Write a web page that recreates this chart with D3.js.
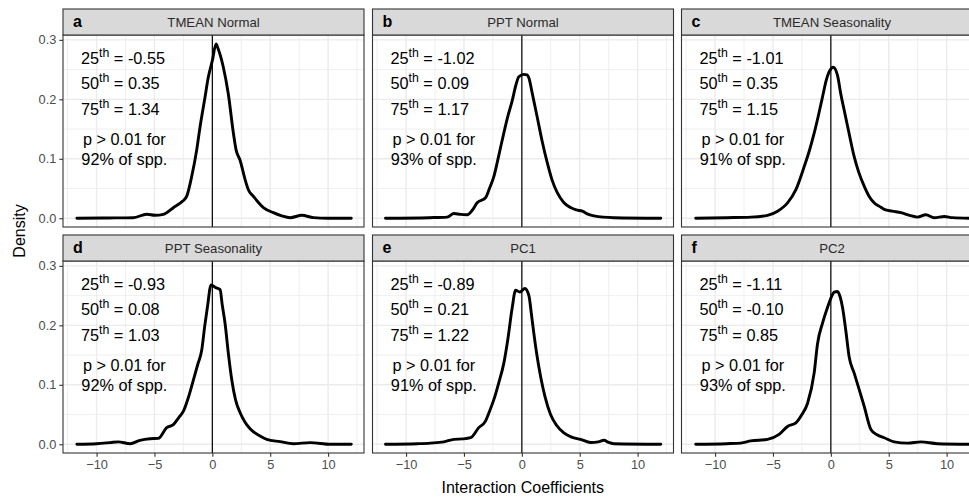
<!DOCTYPE html>
<html>
<head>
<meta charset="utf-8">
<script src="https://cdn.jsdelivr.net/npm/d3@7"></script>
<style>
  html, body { margin: 0; padding: 0; background: #fff; }
  svg { display: block; font-family: "Liberation Sans", Arial, Helvetica, sans-serif; }
</style>
</head>
<body>
<svg id="chart" width="969" height="497"></svg>
<script>
// ---------------- data ----------------
const panelLetters = ["a", "b", "c", "d", "e", "f"];
const panelTitles = ["TMEAN Normal", "PPT Normal", "TMEAN Seasonality", "PPT Seasonality", "PC1", "PC2"];
const p25 = ["-0.55", "-1.02", "-1.01", "-0.93", "-0.89", "-1.11"];
const p50 = ["0.35", "0.09", "0.35", "0.08", "0.21", "-0.10"];
const p75 = ["1.34", "1.17", "1.15", "1.03", "1.22", "0.85"];
const pctSpp = [92, 93, 91, 92, 91, 93];
const xTicks = [-10, -5, 0, 5, 10];
const xMinor = [-12.5, -7.5, -2.5, 2.5, 7.5, 12.5];
const yTicks = [0, 0.1, 0.2, 0.3];
const yMinor = [0.05, 0.15, 0.25];
const xLabel = "Interaction Coefficients";
const yLabel = "Density";

// density curves [coefficient, density]
const densTmeanNormal = [[-11.7,0],[-9,0.0005],[-6.83,0.001],[-5.67,0.0067],[-4.95,0.005],[-4.23,0.0067],[-3.37,0.0178],[-2.56,0.0289],[-2.21,0.0372],[-1.78,0.0706],[-1.35,0.115],[-1.06,0.154],[-0.63,0.204],[-0.35,0.237],[0,0.265],[0.32,0.293],[0.5,0.285],[0.95,0.254],[1.38,0.209],[1.82,0.143],[2.05,0.115],[2.39,0.098],[2.83,0.065],[3.11,0.048],[3.54,0.037],[4.41,0.018],[5.27,0.0094],[6.0,0.004],[6.72,0.001],[7.73,0.005],[8.73,0.001],[10,0],[12,0]];
const densPptNormal = [[-11.78,0],[-8,0.001],[-6.45,0.002],[-5.87,0.008],[-5.3,0.0065],[-4.72,0.006],[-4.3,0.013],[-3.86,0.026],[-3.14,0.0345],[-2.8,0.05],[-2.42,0.07],[-2.0,0.105],[-1.56,0.143],[-1.2,0.172],[-0.83,0.198],[-0.5,0.225],[-0.26,0.238],[0.17,0.242],[0.45,0.241],[0.61,0.236],[0.9,0.21],[1.33,0.17],[1.75,0.13],[2.2,0.093],[2.6,0.065],[3.06,0.043],[3.6,0.027],[4.21,0.018],[4.7,0.014],[5.22,0.012],[5.7,0.007],[6.22,0.004],[7.95,0.001],[12,0]];
const densTmeanSeas = [[-11.67,0],[-9,0.001],[-6.9,0.002],[-5.47,0.005],[-4.6,0.012],[-4.1,0.019],[-3.74,0.026],[-3.02,0.048],[-2.3,0.087],[-1.85,0.114],[-1.44,0.143],[-1.05,0.175],[-0.72,0.204],[-0.4,0.232],[-0.15,0.246],[0.2,0.254],[0.58,0.24],[0.85,0.21],[1.15,0.182],[1.55,0.145],[2.01,0.104],[2.4,0.078],[2.88,0.054],[3.3,0.037],[3.74,0.026],[4.2,0.02],[4.61,0.015],[5.3,0.012],[6.05,0.0095],[6.8,0.005],[7.49,0.002],[8.21,0.006],[8.93,0.001],[9.8,0.003],[10.5,0.001],[12,0]];
const densPptSeas = [[-11.7,0],[-10,0.001],[-8.84,0.0028],[-8.12,0.004],[-7.11,0.001],[-6.25,0.0067],[-5.39,0.0094],[-4.67,0.01],[-3.94,0.028],[-3.37,0.033],[-2.9,0.045],[-2.5,0.0556],[-2.05,0.08],[-1.64,0.108],[-1.25,0.135],[-0.92,0.158],[-0.65,0.2],[-0.43,0.23],[-0.11,0.268],[0.23,0.264],[0.67,0.26],[0.85,0.235],[1.1,0.203],[1.4,0.15],[1.68,0.108],[2.0,0.075],[2.4,0.053],[2.8,0.038],[3.26,0.026],[4.12,0.014],[4.7,0.0083],[5.85,0.0044],[7,0.001],[8.44,0.0028],[10.2,0],[12,0]];
const densPC1 = [[-11.78,0],[-9,0.001],[-7.89,0.002],[-6.74,0.004],[-5.87,0.0083],[-5.1,0.009],[-4.43,0.011],[-3.72,0.028],[-3.14,0.039],[-2.8,0.055],[-2.42,0.075],[-2.0,0.103],[-1.56,0.136],[-1.2,0.178],[-0.83,0.23],[-0.54,0.259],[-0.17,0.256],[0.26,0.262],[0.61,0.25],[0.82,0.22],[1.04,0.186],[1.3,0.15],[1.62,0.114],[2.0,0.08],[2.48,0.05],[3.0,0.032],[3.63,0.019],[4.3,0.012],[5.07,0.0083],[5.94,0.003],[6.6,0.004],[7.09,0.0067],[7.5,0.003],[7.95,0.001],[12,0]];
const densPC2 = [[-11.67,0],[-9,0.001],[-7.78,0.002],[-6.91,0.0056],[-5.47,0.0083],[-4.47,0.0167],[-3.74,0.03],[-3.02,0.036],[-2.5,0.05],[-2.01,0.069],[-1.44,0.12],[-1.15,0.169],[-0.7,0.205],[-0.29,0.23],[0.1,0.25],[0.29,0.256],[0.58,0.257],[0.8,0.248],[1.01,0.23],[1.3,0.19],[1.58,0.147],[2.01,0.12],[2.45,0.092],[2.88,0.064],[3.46,0.025],[4.0,0.016],[4.61,0.011],[5.47,0.004],[6.63,0.002],[7.78,0.004],[9.2,0.001],[12,0]];
const densities = [densTmeanNormal, densPptNormal, densTmeanSeas, densPptSeas, densPC1, densPC2];

// ---------------- layout ----------------
const colLeft = [63, 372.5, 681.5];
const panelW = 301;
const stripTop = [9, 235];
const stripH = 26;
const panelH = 192;
const xDomain = [-12.9, 13.1];
const yMax = 0.2935;
const yDomain = [-0.05 * yMax, 1.05 * yMax];
const FONT = '"Liberation Sans", Arial, Helvetica, sans-serif';

const svg = d3.select("#chart");
svg.append("rect").attr("width", 969).attr("height", 497).attr("fill", "#fff");

const line = d3.line().curve(d3.curveMonotoneX);

densities.forEach((dens, i) => {
  const col = i % 3, row = Math.floor(i / 3);
  const left = colLeft[col];
  const sTop = stripTop[row];
  const pTop = sTop + stripH;
  const x = d3.scaleLinear().domain(xDomain).range([left, left + panelW]);
  const y = d3.scaleLinear().domain(yDomain).range([pTop + panelH, pTop]);
  const g = svg.append("g");

  g.append("rect").attr("x", left).attr("y", pTop).attr("width", panelW).attr("height", panelH).attr("fill", "#fff");

  // grid
  g.selectAll(".xminor").data(xMinor).join("line")
    .attr("x1", d => x(d)).attr("x2", d => x(d)).attr("y1", pTop).attr("y2", pTop + panelH)
    .attr("stroke", "#EBEBEB").attr("stroke-width", 0.8);
  g.selectAll(".yminor").data(yMinor).join("line")
    .attr("x1", left).attr("x2", left + panelW).attr("y1", d => y(d)).attr("y2", d => y(d))
    .attr("stroke", "#EBEBEB").attr("stroke-width", 0.8);
  g.selectAll(".xmajor").data(xTicks).join("line")
    .attr("x1", d => x(d)).attr("x2", d => x(d)).attr("y1", pTop).attr("y2", pTop + panelH)
    .attr("stroke", "#EBEBEB").attr("stroke-width", 1.4);
  g.selectAll(".ymajor").data(yTicks).join("line")
    .attr("x1", left).attr("x2", left + panelW).attr("y1", d => y(d)).attr("y2", d => y(d))
    .attr("stroke", "#EBEBEB").attr("stroke-width", 1.4);

  // vertical zero line
  g.append("line").attr("x1", x(0)).attr("x2", x(0)).attr("y1", pTop).attr("y2", pTop + panelH)
    .attr("stroke", "#000").attr("stroke-width", 1.2);

  // density curve
  g.append("path").attr("d", line(dens.map(d => [x(d[0]), y(d[1])])))
    .attr("fill", "none").attr("stroke", "#000").attr("stroke-width", 2.9)
    .attr("stroke-linejoin", "round").attr("stroke-linecap", "round");

  // annotations
  const pct = [["25", p25[i]], ["50", p50[i]], ["75", p75[i]]];
  const pctY = [0.26, 0.217, 0.173];
  pct.forEach((p, k) => {
    const t = g.append("text").attr("x", x(-11.35)).attr("y", y(pctY[k]))
      .attr("font-size", 16.3).attr("fill", "#000").attr("font-family", FONT);
    t.append("tspan").text(p[0]);
    t.append("tspan").attr("font-size", 12.3).attr("dy", -7).text("th");
    t.append("tspan").attr("dy", 7).text(" = " + p[1]);
  });
  g.append("text").attr("x", x(-7.6)).attr("y", y(0.124)).attr("text-anchor", "middle")
    .attr("font-size", 16.3).attr("fill", "#000").attr("font-family", FONT).text("p > 0.01 for");
  g.append("text").attr("x", x(-7.6)).attr("y", y(0.09)).attr("text-anchor", "middle")
    .attr("font-size", 16.3).attr("fill", "#000").attr("font-family", FONT).text(pctSpp[i] + "% of spp.");

  // panel border
  g.append("rect").attr("x", left).attr("y", pTop).attr("width", panelW).attr("height", panelH)
    .attr("fill", "none").attr("stroke", "#333").attr("stroke-width", 1.1);

  // strip
  g.append("rect").attr("x", left).attr("y", sTop).attr("width", panelW).attr("height", stripH)
    .attr("fill", "#D9D9D9").attr("stroke", "#333").attr("stroke-width", 1.1);
  g.append("text").attr("x", left + 10).attr("y", sTop + 18).attr("font-size", 16)
    .attr("font-weight", "bold").attr("fill", "#000").attr("font-family", FONT).text(panelLetters[i]);
  g.append("text").attr("x", left + panelW / 2).attr("y", sTop + 17.8).attr("text-anchor", "middle")
    .attr("font-size", 13.2).attr("fill", "#2a2a2a").attr("font-family", FONT).text(panelTitles[i]);

  // y axis (left column)
  if (col === 0) {
    const ya = g.append("g").attr("transform", `translate(${left},0)`)
      .call(d3.axisLeft(y).tickValues(yTicks).tickFormat(d3.format(".1f")).tickSize(3.7).tickPadding(3));
    ya.select(".domain").remove();
    ya.selectAll(".tick line").attr("stroke", "#333").attr("stroke-width", 1.1);
    ya.selectAll(".tick text").attr("fill", "#4D4D4D").attr("font-size", 12.8).attr("font-family", FONT);
  }
  // x axis (bottom row)
  if (row === 1) {
    const xa = g.append("g").attr("transform", `translate(0,${pTop + panelH})`)
      .call(d3.axisBottom(x).tickValues(xTicks).tickFormat(d => d < 0 ? "\u2212" + Math.abs(d) : String(d)).tickSize(3.7).tickPadding(3));
    xa.select(".domain").remove();
    xa.selectAll(".tick line").attr("stroke", "#333").attr("stroke-width", 1.1);
    xa.selectAll(".tick text").attr("fill", "#4D4D4D").attr("font-size", 12.8).attr("font-family", FONT);
  }
});

// axis titles
svg.append("text").attr("x", (colLeft[0] + colLeft[2] + panelW) / 2).attr("y", 493)
  .attr("text-anchor", "middle").attr("font-size", 16).attr("fill", "#000").attr("font-family", FONT).text(xLabel);
svg.append("text").attr("transform", "translate(25,231) rotate(-90)")
  .attr("text-anchor", "middle").attr("font-size", 16).attr("fill", "#000").attr("font-family", FONT).text(yLabel);
</script>
</body>
</html>
